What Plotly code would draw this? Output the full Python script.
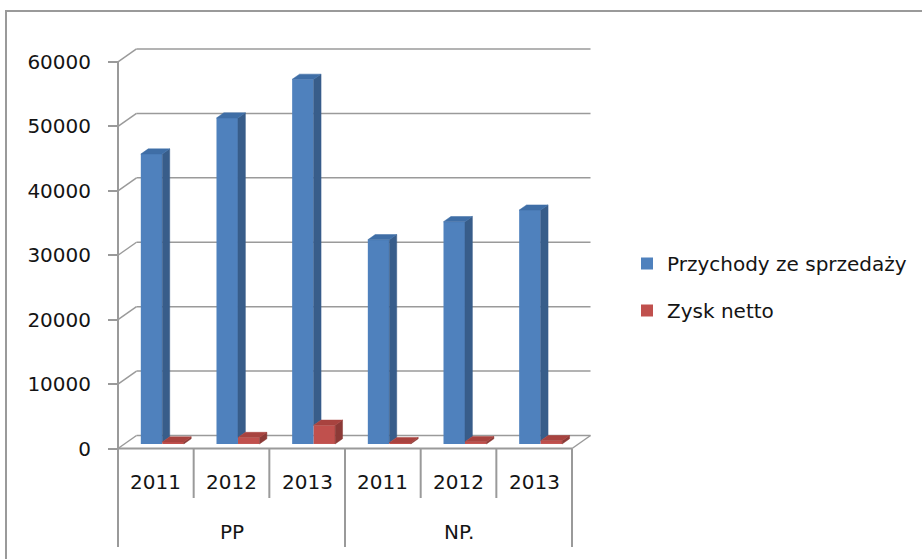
import plotly.graph_objects as go

# ---------------- data ----------------
groups = ["PP", "NP."]
years = ["2011", "2012", "2013", "2011", "2012", "2013"]
series_names = ["Przychody ze sprzedaży", "Zysk netto"]
revenue = [45000, 50600, 56600, 31700, 34500, 36300]
net_profit = [300, 1000, 2900, 200, 350, 500]
y_ticks = [0, 10000, 20000, 30000, 40000, 50000, 60000]

# ---------------- geometry (layout only) ----------------
W, H = 922, 559
PX_CAT = 75.67            # pixels per category on the front plane
X_LEFT_PX = 118           # pixel of the front-left corner (x = -0.5)
PX_PER_VAL = 6.442 / 1000 # pixels per value unit
Y_ZERO_PX = 448.5         # pixel of value 0 on the front plane

def xv(px):
    return -0.5 + (px - X_LEFT_PX) / PX_CAT

def yv(py):
    return (Y_ZERO_PX - py) / PX_PER_VAL

DX = 18.5 / PX_CAT          # depth offset (x) in category units
DY = 13 / PX_PER_VAL        # depth offset (y) in value units
BAR_W = 0.284
F0, FD = 0.35, 0.40         # bar front depth fraction, bar depth fraction
SX, BASE = F0 * DX, F0 * DY
DDX, DDY = FD * DX, FD * DY

n = len(years)
idx = list(range(n))
blue_c = [i - BAR_W / 2 + SX for i in idx]
red_c = [i + BAR_W / 2 + SX for i in idx]

BLUE, BLUE_SIDE, BLUE_TOP = "#4F81BD", "#385D8A", "#3F6EA6"
RED, RED_SIDE, RED_TOP = "#C0504D", "#8C3A37", "#A8433F"
GRID = "#9a9a9a"
TXT = "#141414"
FONT = "DejaVu Sans"

fig = go.Figure()

fig.add_trace(go.Bar(x=blue_c, y=revenue, base=[BASE] * n, width=BAR_W,
                     marker=dict(color=BLUE, line=dict(width=0)),
                     name=series_names[0], legendgroup="a"))
fig.add_trace(go.Bar(x=red_c, y=net_profit, base=[BASE] * n, width=BAR_W,
                     marker=dict(color=RED, line=dict(width=0)),
                     name=series_names[1], legendgroup="b"))


def faces(centers, vals, lower=None):
    sx, sy, tx, ty = [], [], [], []
    for k, (c, v) in enumerate(zip(centers, vals)):
        xl, xr = c - BAR_W / 2, c + BAR_W / 2
        t = BASE + v
        lo = BASE if lower is None else max(BASE, lower[k])
        sx += [xr, xr + DDX, xr + DDX, xr, xr, None]
        sy += [lo, lo + DDY, t + DDY, t, lo, None]
        tx += [xl, xl + DDX, xr + DDX, xr, xl, None]
        ty += [t, t + DDY, t + DDY, t, t, None]
    return sx, sy, tx, ty


red_tops = [BASE + v for v in net_profit]
for centers, vals, lower, cs, ct in [
    (blue_c, revenue, red_tops, BLUE_SIDE, BLUE_TOP),
    (red_c, net_profit, None, RED_SIDE, RED_TOP),
]:
    sx, sy, tx, ty = faces(centers, vals, lower)
    fig.add_trace(go.Scatter(x=sx, y=sy, mode="lines", fill="toself",
                             fillcolor=cs, line=dict(width=0.5, color=cs),
                             showlegend=False, hoverinfo="skip"))
    fig.add_trace(go.Scatter(x=tx, y=ty, mode="lines", fill="toself",
                             fillcolor=ct, line=dict(width=0.5, color=ct),
                             showlegend=False, hoverinfo="skip"))

shapes = []
# outer chart border
shapes.append(dict(type="rect", xref="paper", yref="paper",
                   x0=6 / W, x1=1.02, y0=-0.02, y1=1 - 11 / H,
                   line=dict(color="#9a9a9a", width=2), layer="below"))
# back wall grid lines + side-wall diagonals
for v in y_ticks:
    shapes.append(dict(type="line", x0=-0.5, y0=v, x1=-0.5 + DX, y1=v + DY,
                       line=dict(color=GRID, width=1.5), layer="below"))
    shapes.append(dict(type="line", x0=-0.5 + DX, y0=v + DY, x1=n - 0.5 + DX, y1=v + DY,
                       line=dict(color=GRID, width=1.5), layer="below"))
# floor right edge
shapes.append(dict(type="line", x0=n - 0.5, y0=0, x1=n - 0.5 + DX, y1=DY,
                   line=dict(color=GRID, width=1.5), layer="below"))
# floor front edge
shapes.append(dict(type="line", x0=-0.5, y0=0, x1=n - 0.5, y1=0,
                   line=dict(color=GRID, width=2), layer="below"))
# front value axis, continuing as table border
shapes.append(dict(type="line", x0=-0.5, y0=y_ticks[-1], x1=-0.5, y1=yv(547),
                   line=dict(color=GRID, width=2), layer="below"))
# group dividers
for gx in [2.5, 5.5]:
    shapes.append(dict(type="line", x0=gx, y0=0, x1=gx, y1=yv(547),
                       line=dict(color=GRID, width=2), layer="below"))
# year dividers
for yx in [0.5, 1.5, 3.5, 4.5]:
    shapes.append(dict(type="line", x0=yx, y0=0, x1=yx, y1=yv(498),
                       line=dict(color=GRID, width=2), layer="below"))

annotations = []
for i, yr in enumerate(years):
    annotations.append(dict(x=i, y=yv(482), text=yr, showarrow=False,
                            font=dict(family=FONT, size=20, color=TXT)))
for gi, g in enumerate(groups):
    annotations.append(dict(x=1 + 3 * gi, y=yv(532), text=g, showarrow=False,
                            font=dict(family=FONT, size=20, color=TXT)))

fig.update_layout(
    width=W, height=H,
    margin=dict(l=0, r=0, t=0, b=0),
    paper_bgcolor="white", plot_bgcolor="white",
    barmode="overlay",
    shapes=shapes,
    annotations=annotations,
    xaxis=dict(range=[xv(0), xv(W)], visible=False, fixedrange=True),
    yaxis=dict(range=[yv(H), yv(0)], tickvals=y_ticks,
               ticktext=[str(v) for v in y_ticks],
               ticks="outside", ticklen=10, tickwidth=2, tickcolor=GRID,
               showgrid=False, zeroline=False, showline=False,
               anchor="free", position=X_LEFT_PX / W, automargin=False,
               ticklabelstandoff=13,
               tickfont=dict(family=FONT, size=20, color=TXT), fixedrange=True),
    legend=dict(x=627 / W, y=1 - 244 / H, xanchor="left", yanchor="top",
                font=dict(family=FONT, size=20, color=TXT),
                traceorder="grouped", tracegroupgap=18,
                bgcolor="rgba(0,0,0,0)"),
    showlegend=True,
)

fig.write_html("out.html")
